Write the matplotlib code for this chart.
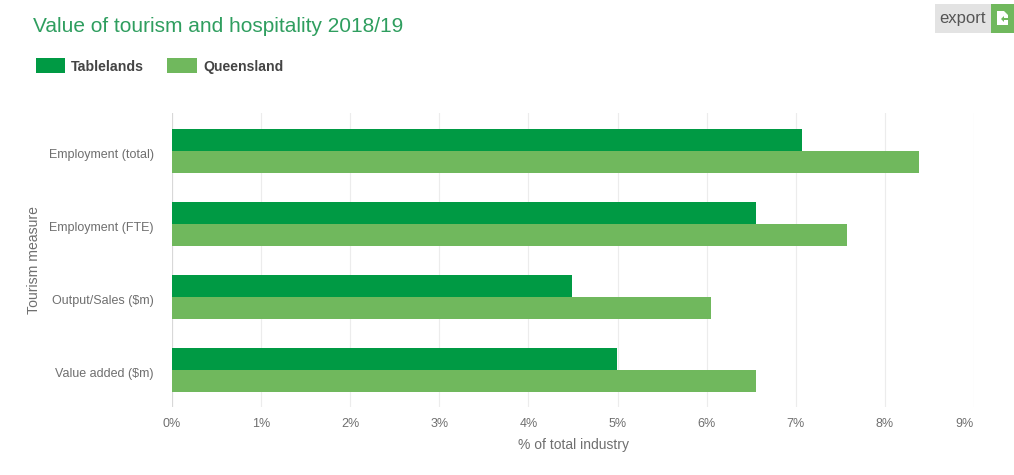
import matplotlib
matplotlib.use("Agg")
import numpy as np
import matplotlib.pyplot as plt
from matplotlib.patches import Rectangle, Polygon
from matplotlib.transforms import ScaledTranslation

plt.rcParams["font.family"] = ["Liberation Sans", "DejaVu Sans"]

measures = ["Employment (total)", "Employment (FTE)", "Output/Sales ($m)", "Value added ($m)"]
tablelands = [7.07, 6.55, 4.49, 4.99]
queensland = [8.38, 7.58, 6.05, 6.55]
x_ticks = [0, 1, 2, 3, 4, 5, 6, 7, 8, 9]

W, H = 1014, 475
DARK = "#009a44"
LIGHT = "#70b85d"
GREY = "#6f6f6f"


def px_rect(x, y, w, h, **kw):
    # figure artist placed with pixel coordinates, y counted from the top
    return Rectangle((x / W, 1 - (y + h) / H), w / W, h / H, transform=fig.transFigure, **kw)


fig = plt.figure(figsize=(W / 100, H / 100), dpi=100)
ax = fig.add_axes([172 / W, 1 - 407 / H, (974 - 172) / W, (407 - 113) / H])

y = np.arange(len(measures))
bar_h = 0.298
ax.barh(y - bar_h / 2, tablelands, bar_h, color=DARK, zorder=3)
ax.barh(y + bar_h / 2, queensland, bar_h, color=LIGHT, zorder=3)

ax.set_xlim(0, 9)
ax.set_ylim(3.506, -0.517)
ax.set_yticks(y)
ax.set_yticklabels(measures, fontsize=9, color=GREY)
ax.set_xticks(x_ticks)
ax.set_xticklabels([f"{t}%" for t in x_ticks], fontsize=9, color=GREY)
ax.tick_params(axis="both", length=0)
ax.tick_params(axis="y", pad=13)
ax.tick_params(axis="x", pad=8)
# category labels sit a little below the centre of each bar pair
nudge = ScaledTranslation(0, -2.5 / 100, fig.dpi_scale_trans)
for lab in ax.get_yticklabels():
    lab.set_transform(lab.get_transform() + nudge)
# last tick label is kept inside the plot's right edge
ax.get_xticklabels()[-1].set_ha("right")
ax.grid(axis="x", color="#ececec", linewidth=0.8, zorder=0)
ax.set_axisbelow(True)
for s in ax.spines.values():
    s.set_visible(False)
ax.axvline(0, color="#d8d8d8", linewidth=0.8, zorder=2)

fig.text(573 / W, 1 - 445 / H, "% of total industry", fontsize=10, color=GREY, ha="center", va="center")
fig.text(34 / W, 1 - 260 / H, "Tourism measure", fontsize=10.1, color=GREY, rotation=90, ha="center", va="center")

fig.text(33 / W, 1 - 26 / H, "Value of tourism and hospitality 2018/19", fontsize=15, color="#2f9e5f", ha="left", va="center")

# legend
fig.add_artist(px_rect(36, 58, 29, 15, facecolor=DARK, edgecolor="none"))
fig.text(71 / W, 1 - 67 / H, "Tablelands", fontsize=10.2, fontweight="bold", color="#444444", va="center")
fig.add_artist(px_rect(167, 58, 30, 15, facecolor=LIGHT, edgecolor="none"))
fig.text(203 / W, 1 - 67 / H, "Queensland", fontsize=10.1, fontweight="bold", color="#444444", va="center")

# export button
fig.add_artist(px_rect(935, 4, 56, 29, facecolor="#e3e3e3", edgecolor="none"))
fig.add_artist(px_rect(991, 4, 23, 29, facecolor=LIGHT, edgecolor="none"))
fig.text(962 / W, 1 - 18 / H, "export", fontsize=12, color="#555555", ha="center", va="center")
icon = [(997, 11), (1004, 11), (1008, 15), (1008, 18), (1004, 18), (1004, 16), (1001, 19),
        (1004, 22), (1004, 20), (1008, 20), (1008, 25), (997, 25)]
fig.add_artist(Polygon([(px / W, 1 - py / H) for px, py in icon], closed=True,
                       transform=fig.transFigure, facecolor="white", edgecolor="none"))

fig.savefig("out.png", dpi=100)
